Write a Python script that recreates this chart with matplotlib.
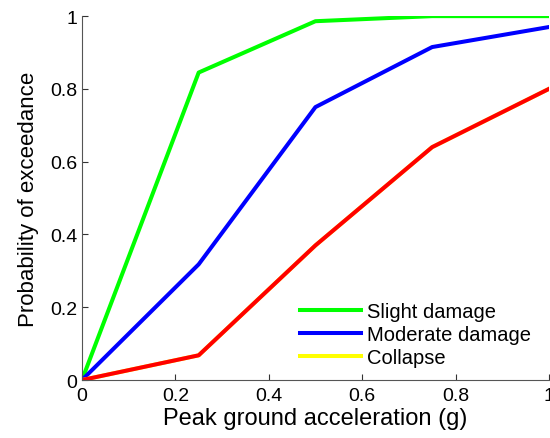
import matplotlib
matplotlib.use('Agg')
import matplotlib.pyplot as plt

pga = [0, 0.25, 0.5, 0.75, 1.0]
slight = [0, 0.845, 0.986, 1.0, 1.0]
moderate = [0, 0.318, 0.75, 0.915, 0.97]
collapse = [0, 0.068, 0.37, 0.64, 0.80]

plt.rcParams['font.family'] = ['Liberation Sans', 'DejaVu Sans']

fig = plt.figure(figsize=(5.5, 4.39), dpi=100)
ax = fig.add_axes([0.149, 0.132, 0.849, 0.829])

ax.plot(pga, slight, color='#00ff00', lw=2.9, label='Slight damage')
ax.plot(pga, moderate, color='#0000ff', lw=2.9, label='Moderate damage')
# yellow collapse curve ends up hidden under the red one
ax.plot(pga, collapse, color='#ffff00', lw=2.9, label='Collapse')
ax.plot(pga, collapse, color='#ff0000', lw=2.9)

ax.set_xlim(0, 1)
ax.set_ylim(0, 1)
ax.set_xticks([0, 0.2, 0.4, 0.6, 0.8, 1])
ax.set_xticklabels(['0', '0.2', '0.4', '0.6', '0.8', '1'])
ax.set_yticks([0, 0.2, 0.4, 0.6, 0.8, 1])
ax.set_yticklabels(['0', '0.2', '0.4', '0.6', '0.8', '1'])
ax.tick_params(direction='in', length=4, labelsize=14, colors='#333333', labelcolor='black', width=0.8)
ax.tick_params(axis='x', pad=5)
for s in ['top', 'right']:
    ax.spines[s].set_visible(False)
for s in ['left', 'bottom']:
    ax.spines[s].set_color('#555555')
    ax.spines[s].set_linewidth(0.8)

ax.set_xlabel('Peak ground acceleration (g)', fontsize=17, labelpad=2)
ax.set_ylabel('Probability of exceedance', fontsize=16, labelpad=8)

ax.legend(loc='lower right', frameon=False, fontsize=14.5, handlelength=3.0,
          handletextpad=0.3, labelspacing=0.2, bbox_to_anchor=(1.0, -0.015))

fig.savefig('out.png', dpi=100)
